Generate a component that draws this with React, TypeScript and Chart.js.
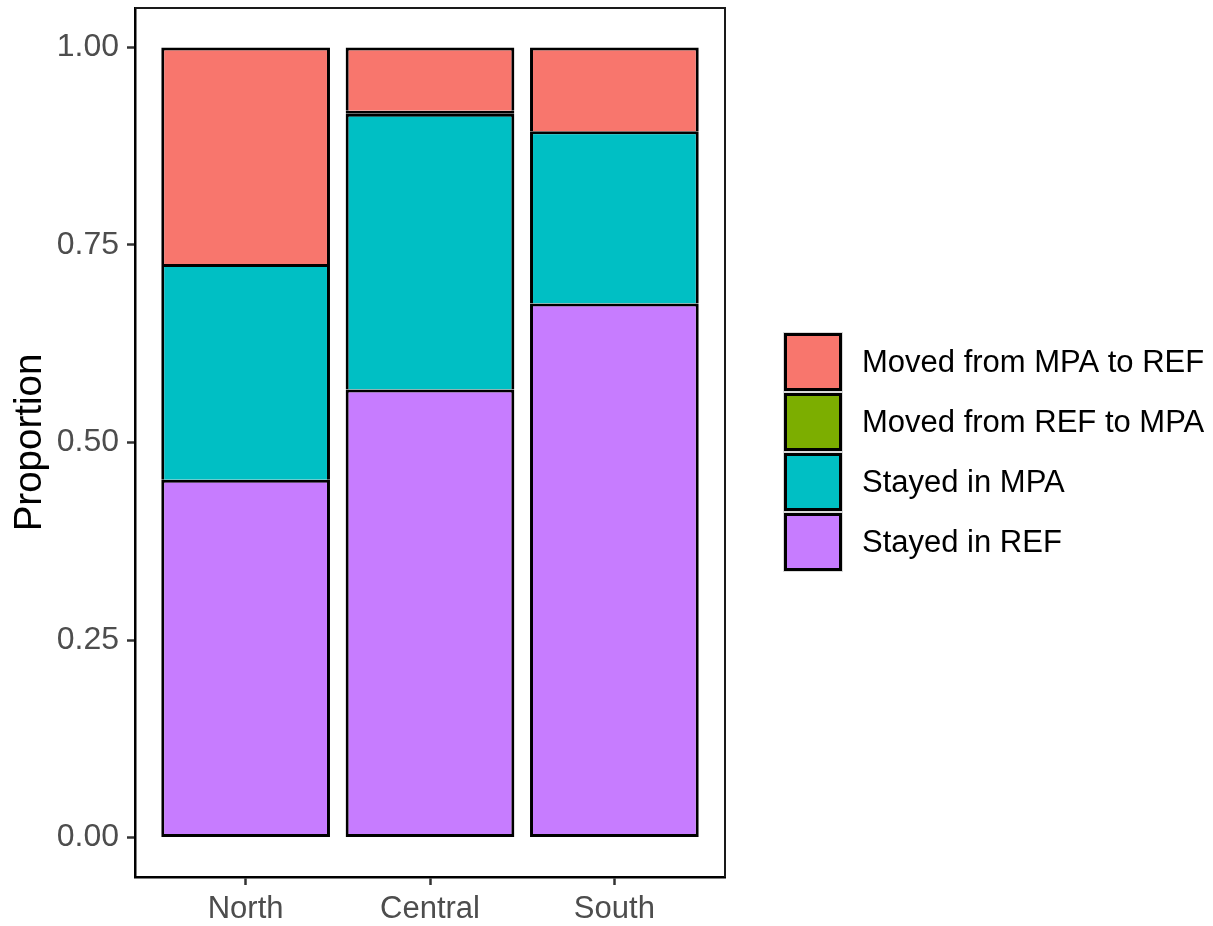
import React, { useEffect, useRef } from "react";
import { Chart, registerables } from "chart.js";

Chart.register(...registerables);

const categories = ["North", "Central", "South"];
const movedMpaToRef = [0.274, 0.08, 0.106];
const movedRefToMpa = [0, 0.004, 0];
const stayedInMpa = [0.273, 0.349, 0.218];
const stayedInRef = [0.453, 0.567, 0.676];
const yTicks = [0, 0.25, 0.5, 0.75, 1];

const seriesNames = ["Moved from MPA to REF", "Moved from REF to MPA", "Stayed in MPA", "Stayed in REF"];
const seriesColors = ["#F8766D", "#7CAE00", "#00BFC4", "#C77CFF"];
const seriesValues = [movedMpaToRef, movedRefToMpa, stayedInMpa, stayedInRef];

const FONT = "'Liberation Sans', Arial, sans-serif";
const BW = 3;

export default function App() {
  const ref = useRef<HTMLCanvasElement | null>(null);
  useEffect(() => {
    const canvas = ref.current;
    if (!canvas) return;
    const order = [3, 2, 1, 0];
    const datasets = order.map((si, k) => ({
      label: seriesNames[si],
      data: seriesValues[si].map((v, i) => ({ x: i + 1, y: v === 0 ? null : v })),
      backgroundColor: seriesColors[si],
      borderColor: "#000000",
      borderWidth: { top: BW, left: BW, right: BW, bottom: k === 0 || si === 1 ? BW : 0 },
      borderSkipped: false as const,
      barPercentage: 0.915,
      categoryPercentage: 1,
    }));

    const framePlugin = {
      id: "frame",
      afterDraw(chart: any) {
        const { ctx, chartArea } = chart;
        ctx.save();
        ctx.strokeStyle = "#1a1a1a";
        ctx.lineWidth = 2;
        ctx.beginPath();
        ctx.moveTo(chartArea.left, chartArea.top);
        ctx.lineTo(chartArea.right, chartArea.top);
        ctx.lineTo(chartArea.right, chartArea.bottom);
        ctx.stroke();
        const kx = 784, ky0 = 333, ks = 58, pitch = 60;
        ctx.font = `31px ${FONT}`;
        ctx.textBaseline = "middle";
        ctx.textAlign = "left";
        for (let i = 0; i < seriesNames.length; i++) {
          const y = ky0 + i * pitch;
          ctx.fillStyle = "#d9d9d9";
          ctx.fillRect(kx - 1, y - 1, ks + 2, ks + 2);
          ctx.fillStyle = "#000000";
          ctx.fillRect(kx, y, ks, ks);
          ctx.fillStyle = seriesColors[i];
          ctx.fillRect(kx + BW, y + BW, ks - 2 * BW, ks - 2 * BW);
          ctx.fillStyle = "#000000";
          ctx.fillText(seriesNames[i], 862, y + ks / 2 + 1);
        }
        ctx.restore();
      },
    };

    const chart = new Chart(canvas, {
      type: "bar",
      data: { datasets: datasets as any },
      options: {
        animation: false,
        responsive: false,
        maintainAspectRatio: false,
        layout: { padding: { left: 0, top: 8, right: 488, bottom: 0 } },
        plugins: { legend: { display: false }, tooltip: { enabled: false } },
        scales: {
          x: {
            type: "linear",
            stacked: true,
            offset: false,
            min: 0.4,
            max: 3.6,
            afterBuildTicks: (s: any) => {
              s.ticks = categories.map((_, i) => ({ value: i + 1 }));
            },
            afterFit: (s: any) => {
              s.height = 49;
              s.paddingLeft = 0;
              s.paddingRight = 0;
            },
            grid: { offset: false, drawOnChartArea: false, drawTicks: true, tickLength: 8, tickColor: "#333333", tickWidth: 2.5 },
            border: { display: true, color: "#000000", width: 2.5 },
            ticks: {
              autoSkip: false,
              maxRotation: 0,
              padding: 6,
              color: "#4D4D4D",
              font: { family: FONT, size: 31 },
              callback: (v: any) => categories[Math.round(Number(v)) - 1] ?? "",
            },
          },
          y: {
            type: "linear",
            stacked: true,
            min: -0.05,
            max: 1.05,
            afterBuildTicks: (s: any) => {
              s.ticks = yTicks.map((v) => ({ value: v }));
            },
            afterFit: (s: any) => {
              s.width = 135;
              s.paddingTop = 0;
              s.paddingBottom = 0;
            },
            grid: { drawOnChartArea: false, drawTicks: true, tickLength: 8, tickColor: "#333333", tickWidth: 2.5 },
            border: { display: true, color: "#000000", width: 2.5 },
            ticks: {
              padding: 8,
              color: "#4D4D4D",
              font: { family: FONT, size: 32 },
              callback: (v: any) => Number(v).toFixed(2),
            },
            title: {
              display: true,
              text: "Proportion",
              color: "#000000",
              font: { family: FONT, size: 38.5 },
              padding: { top: 7, bottom: 0 },
            },
          },
        },
      },
      plugins: [framePlugin],
    });
    return () => chart.destroy();
  }, []);

  return (
    <div style={{ position: "fixed", left: 0, top: 0, width: 1213, height: 926, background: "#ffffff" }}>
      <canvas ref={ref} width={1213} height={926} style={{ width: 1213, height: 926, display: "block" }} />
    </div>
  );
}
